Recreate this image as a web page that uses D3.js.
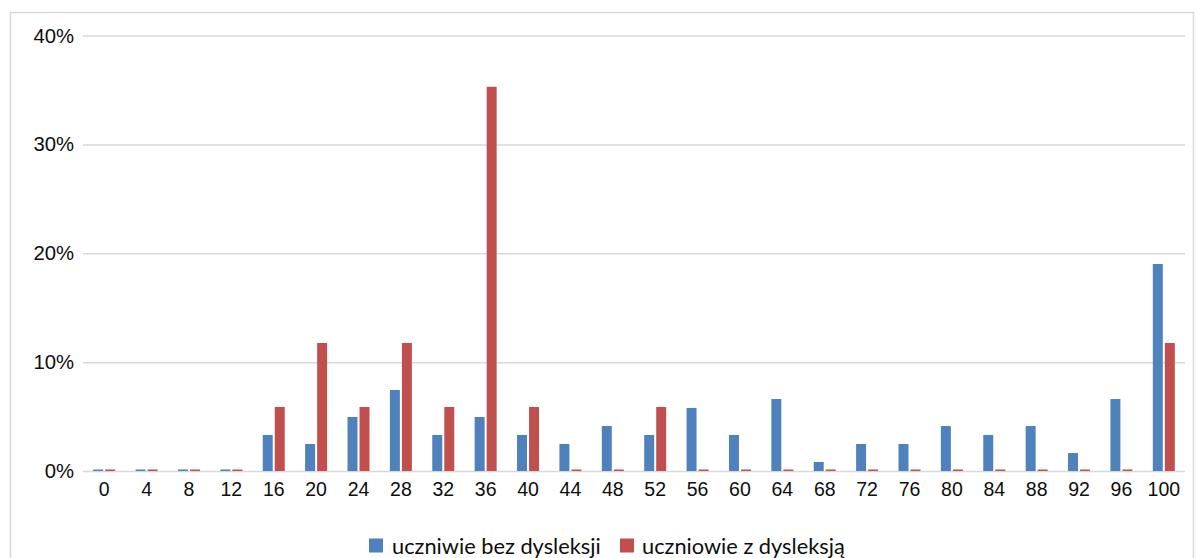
<!DOCTYPE html>
<html>
<head>
<meta charset="utf-8">
<script src="https://cdn.jsdelivr.net/npm/d3@7"></script>
<style>
  html, body { margin: 0; padding: 0; background: #fff; }
  svg { display: block; font-family: Lato, "Open Sans", sans-serif; }
</style>
</head>
<body>
<svg id="chart" width="1196" height="558"></svg>
<script>
const categories = ["0","4","8","12","16","20","24","28","32","36","40","44","48","52","56","60","64","68","72","76","80","84","88","92","96","100"];
const seriesNames = ["uczniwie bez dysleksji", "uczniowie z dysleksją"];
const bezDysleksji = [0,0,0,0,3.31,2.48,4.96,7.44,3.31,4.96,3.31,2.48,4.13,3.31,5.79,3.31,6.61,0.83,2.48,2.48,4.13,3.31,4.13,1.65,6.61,19.01];
const zDysleksja   = [0,0,0,0,5.88,11.76,5.88,11.76,5.88,35.29,5.88,0,0,5.88,0,0,0,0,0,0,0,0,0,0,0,11.76];
const yTicks = [0, 10, 20, 30, 40];
const colors = ["#4f81bd", "#c0504d"];

const svg = d3.select("#chart");
const plotLeft = 83, plotRight = 1185, plotTop = 35.5, plotBottom = 471;
const xTickFs = 19.5, yTickFs = 20.3, legendFs = 21.8;

// frame
svg.append("rect").attr("x", 10.5).attr("y", 12.5).attr("width", 1183).attr("height", 570)
  .attr("fill", "#fff").attr("stroke", "#d9d9d9").attr("stroke-width", 1.5);

const x = d3.scaleBand().domain(categories).range([plotLeft, plotRight]).paddingInner(0).paddingOuter(0);
const y = d3.scaleLinear().domain([0, 40]).range([plotBottom, plotTop]);
const sub = d3.scaleBand().domain([0, 1]).range([-11, 11]).paddingInner(0.17);

// y axis with gridlines
const yAxis = d3.axisLeft(y).tickValues(yTicks).tickFormat(d => d + "%").tickSize(-(plotRight - plotLeft)).tickPadding(9);
const gy = svg.append("g").attr("transform", `translate(${plotLeft},0)`).call(yAxis);
gy.select(".domain").remove();
gy.selectAll(".tick line").attr("stroke", "#d9d9d9").attr("stroke-width", 1.5);
gy.selectAll(".tick text").attr("fill", "#0d0d0d").attr("font-size", yTickFs).attr("x", -9);

// bars
const rows = categories.map((c, i) => ({ c, vals: [bezDysleksji[i], zDysleksja[i]] }));
const groups = svg.append("g").selectAll("g").data(rows).join("g")
  .attr("transform", d => `translate(${x(d.c) + x.bandwidth() / 2},0)`);
groups.selectAll("rect").data(d => d.vals.map((v, k) => ({ v, k }))).join("rect")
  .attr("x", d => sub(d.k))
  .attr("width", sub.bandwidth())
  .attr("y", d => Math.min(y(d.v), y(0) - 1.5))
  .attr("height", d => Math.max(1.5, y(0) - y(d.v)))
  .attr("fill", d => colors[d.k]);

// x axis
const xAxis = d3.axisBottom(x).tickSize(0).tickPadding(11);
const gx = svg.append("g").attr("transform", `translate(0,${plotBottom})`).call(xAxis);
gx.select(".domain").remove();
gx.selectAll(".tick text").attr("fill", "#0d0d0d").attr("font-size", xTickFs);

// legend
const legend = svg.append("g").attr("transform", "translate(0,546)");
const legendItems = [{ x: 369, tx: 392 }, { x: 620, tx: 642 }];
seriesNames.forEach((name, k) => {
  legend.append("rect").attr("x", legendItems[k].x).attr("y", -7.5).attr("width", 14).attr("height", 14).attr("fill", colors[k]);
  legend.append("text").attr("x", legendItems[k].tx).attr("y", 0).attr("dy", "0.35em")
    .attr("font-size", legendFs).attr("fill", "#0d0d0d").text(name);
});
</script>
</body>
</html>
